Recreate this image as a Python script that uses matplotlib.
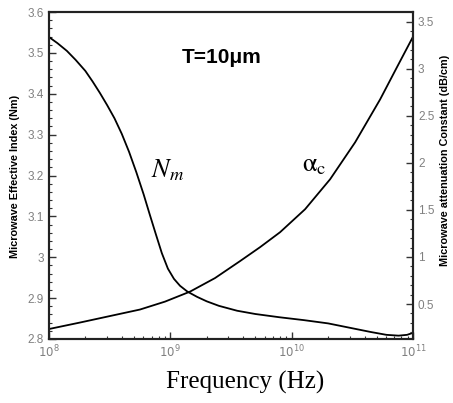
import numpy as np
import matplotlib
matplotlib.use('Agg')
import matplotlib.pyplot as plt
from matplotlib.ticker import MultipleLocator, LogLocator, NullFormatter

# Nm curve (left axis), log10(frequency) vs effective index
logf_nm = [8.0, 8.07, 8.148, 8.22, 8.30, 8.36, 8.42, 8.48, 8.54, 8.60, 8.66,
           8.72, 8.78, 8.83, 8.88, 8.93, 8.98, 9.03, 9.08, 9.14, 9.22, 9.30,
           9.40, 9.55, 9.70, 9.90, 10.10, 10.30, 10.50, 10.65, 10.78, 10.88,
           10.95, 11.0]
nm_vals = [3.539, 3.524, 3.505, 3.483, 3.456, 3.430, 3.402, 3.372, 3.340, 3.302,
           3.258, 3.208, 3.154, 3.105, 3.057, 3.010, 2.972, 2.947, 2.930, 2.916,
           2.903, 2.892, 2.881, 2.869, 2.861, 2.853, 2.846, 2.838, 2.826, 2.817,
           2.810, 2.808, 2.810, 2.815]

# alpha_c curve (right axis), dB/cm
logf_ac = [8.0, 8.256, 8.503, 8.75, 8.956, 9.162, 9.368, 9.574, 9.739, 9.904,
           10.110, 10.316, 10.522, 10.728, 10.868, 11.0]
ac_vals = [0.235, 0.304, 0.373, 0.442, 0.526, 0.632, 0.776, 0.956, 1.104, 1.263,
           1.507, 1.825, 2.217, 2.673, 3.018, 3.341]

f_nm = 10 ** np.array(logf_nm)
f_ac = 10 ** np.array(logf_ac)

gray = '#808080'
sans = 'Liberation Sans'
fig = plt.figure(figsize=(4.53, 4.03), dpi=100)
ax1 = fig.add_axes([0.108, 0.159, 0.804, 0.811])
ax1.plot(f_nm, nm_vals, color='black', lw=1.3)
ax1.set_xscale('log')
ax1.set_xlim(1e8, 1e11)
ax1.set_ylim(2.8, 3.6)
ax1.yaxis.set_minor_locator(MultipleLocator(0.02))
ax1.set_yticks([2.8, 2.9, 3.0, 3.1, 3.2, 3.3, 3.4, 3.5, 3.6])
ax1.set_yticklabels(['2.8', '2.9', '3', '3.1', '3.2', '3.3', '3.4', '3.5', '3.6'],
                    family=sans)
ax1.xaxis.set_minor_locator(LogLocator(base=10, subs=np.arange(2, 10)))
ax1.xaxis.set_minor_formatter(NullFormatter())
ax1.tick_params(which='both', direction='in', colors='#333333', labelcolor=gray,
                labelsize=8.5, top=False, right=False)
ax1.tick_params(which='major', length=5, width=1)
ax1.tick_params(which='minor', length=2.5, width=0.8)
ax1.set_ylabel('Microwave Effective Index (Nm)', fontsize=7.8, fontweight='bold',
               family=sans)
ax1.yaxis.set_label_coords(-0.08, 0.498)

ax2 = ax1.twinx()
ax2.plot(f_ac, ac_vals, color='black', lw=1.3)
ax2.set_ylim(0.13, 3.6)
ax2.set_yticks([0.5, 1, 1.5, 2, 2.5, 3, 3.5])
ax2.set_yticklabels(['0.5', '1', '1.5', '2', '2.5', '3', '3.5'], family=sans)
ax2.yaxis.set_minor_locator(MultipleLocator(0.1))
ax2.tick_params(which='both', direction='in', colors='#333333', labelcolor=gray,
                labelsize=8.5)
ax2.tick_params(which='major', length=5, width=1)
ax2.tick_params(which='minor', length=2.5, width=0.8)
ax2.set_ylabel('Microwave attenuation Constant (dB/cm)', fontsize=7.8,
               fontweight='bold', family=sans)
ax2.yaxis.set_label_coords(1.074, 0.547)

for ax in (ax1, ax2):
    for s in ax.spines.values():
        s.set_linewidth(1.5)
        s.set_color('#222222')

fig.text(0.541, 0.05, 'Frequency (Hz)', fontsize=18, family='Liberation Serif',
         ha='center', va='center')

ax1.text(0.475, 0.861, 'T=10μm', transform=ax1.transAxes, ha='center', va='center',
         fontsize=15, fontweight='bold', family=sans)
ax1.text(0.326, 0.517, r'$N_m$', transform=ax1.transAxes, ha='center', va='center',
         fontsize=19, math_fontfamily='stix')
ax1.text(0.728, 0.535, r'$\mathrm{\alpha}_\mathrm{c}$', transform=ax1.transAxes,
         ha='center', va='center', fontsize=19, math_fontfamily='stix')

fig.savefig('out.png', dpi=100)
